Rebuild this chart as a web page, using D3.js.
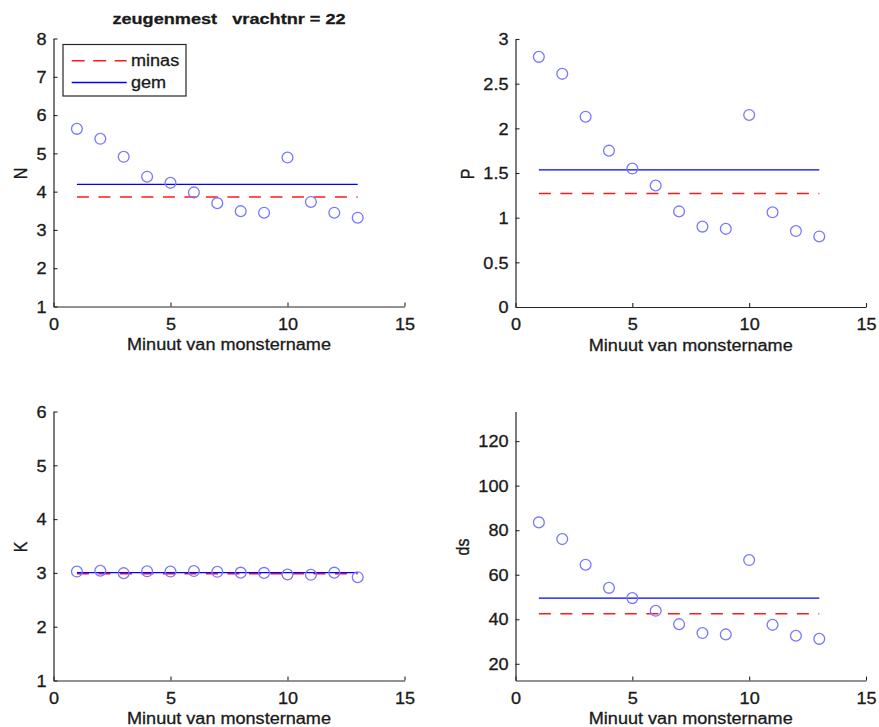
<!DOCTYPE html>
<html>
<head>
<meta charset="utf-8">
<script src="https://cdn.jsdelivr.net/npm/d3@7"></script>
<style>
  html, body { margin: 0; padding: 0; background: #fff; }
  svg { display: block; }
  text { font-family: "Liberation Sans", Arial, Helvetica, sans-serif; fill: #1a1a1a; stroke: #1a1a1a; stroke-width: 0.3px; white-space: pre; }
</style>
</head>
<body>
<svg id="chart" width="879" height="727"></svg>
<script>
// Sampling minutes and the measured quantities per minute
const minutes = [1, 2, 3, 4, 5, 6, 7, 8, 9, 10, 11, 12, 13];
const nValues = [5.64, 5.38, 4.91, 4.39, 4.23, 3.98, 3.70, 3.49, 3.45, 4.89, 3.73, 3.45, 3.32];
const pValues = [2.80, 2.61, 2.13, 1.75, 1.55, 1.36, 1.07, 0.90, 0.875, 2.15, 1.06, 0.85, 0.79];
const kValues = [3.025, 3.04, 2.995, 3.03, 3.025, 3.035, 3.02, 3.005, 3.0, 2.97, 2.965, 3.005, 2.92];
const dsValues = [83.5, 76.0, 64.5, 54.1, 49.5, 43.8, 37.8, 33.8, 33.2, 66.6, 37.5, 32.6, 31.2];

// Reference levels per quantity: N, P, K, ds
const gemValues = [4.19, 1.535, 3.005, 49.5];
const minasValues = [3.86, 1.27, 2.985, 42.5];

// Axis labels and ticks
const quantityLabels = ["N", "P", "K", "ds"];
const xTicks = [0, 5, 10, 15];
const nTicks = [1, 2, 3, 4, 5, 6, 7, 8];
const pTicks = [0, 0.5, 1, 1.5, 2, 2.5, 3];
const kTicks = [1, 2, 3, 4, 5, 6];
const dsTicks = [20, 40, 60, 80, 100, 120];
const legendLabels = ["minas", "gem"];
const titleText = "zeugenmest   vrachtnr = 22";

// Panel geometry (pixels)
const SX = 1.13;          // horizontal stretch of the lettering
const panels = [
  { values: nValues,  ticks: nTicks,  ydom: [1, 8],       left: 53.5,  right: 404.5, top: 38.5,  bottom: 306.5, labelDx: -27 },
  { values: pValues,  ticks: pTicks,  ydom: [0, 3],       left: 515.5, right: 866,   top: 39,    bottom: 307,   labelDx: -42 },
  { values: kValues,  ticks: kTicks,  ydom: [1, 6],       left: 53.5,  right: 404.5, top: 411.5, bottom: 680.5, labelDx: -27 },
  { values: dsValues, ticks: dsTicks, ydom: [12.5, 133.3], left: 515.5, right: 866,  top: 411.5, bottom: 680.5, labelDx: -47 }
];

const svg = d3.select("#chart");
const axisColor = "#262626";
const markerColor = "#7878ff";
const gemColor = "#0000ff";
const minasColor = "#ff1a1a";
const dash = "12,9.5";

panels.forEach((p, i) => {
  const x = d3.scaleLinear().domain([0, 15]).range([p.left, p.right]);
  const y = d3.scaleLinear().domain(p.ydom).range([p.bottom, p.top]);
  const g = svg.append("g");

  // minas (dashed) and gem (solid) reference lines over the sampled minutes
  const x0 = d3.min(minutes), x1 = d3.max(minutes);
  g.append("line")
    .attr("x1", x(x0)).attr("x2", x(x1))
    .attr("y1", y(minasValues[i])).attr("y2", y(minasValues[i]))
    .attr("stroke", minasColor).attr("stroke-width", 1.5)
    .attr("stroke-dasharray", dash);
  g.append("line")
    .attr("x1", x(x0)).attr("x2", x(x1))
    .attr("y1", y(gemValues[i])).attr("y2", y(gemValues[i]))
    .attr("stroke", gemColor).attr("stroke-width", 1.4);

  // measurements as open circles
  g.selectAll("circle.pt")
    .data(minutes.map((m, k) => [m, p.values[k]]))
    .join("circle")
    .attr("class", "pt")
    .attr("cx", d => x(d[0])).attr("cy", d => y(d[1]))
    .attr("r", 5.4)
    .attr("fill", "none")
    .attr("stroke", markerColor).attr("stroke-width", 1.3);

  // axes with inward ticks
  const fmt = d => String(+d.toFixed(2));
  const yAxis = g.append("g")
    .attr("transform", `translate(${p.left},0)`)
    .call(d3.axisLeft(y).tickValues(p.ticks).tickFormat(fmt).tickSizeInner(-4).tickSizeOuter(0));
  const xAxis = g.append("g")
    .attr("transform", `translate(0,${p.bottom})`)
    .call(d3.axisBottom(x).tickValues(xTicks).tickFormat(fmt).tickSizeInner(-4).tickSizeOuter(0));

  [yAxis, xAxis].forEach(a => {
    a.select(".domain").attr("stroke", axisColor).attr("stroke-width", 1.2);
    a.selectAll(".tick line").attr("stroke", axisColor).attr("stroke-width", 1.1);
    a.selectAll(".tick text")
      .style("font-size", "16px").attr("fill", "#1a1a1a")
      .attr("x", 0).attr("y", 0).attr("dy", null);
  });
  yAxis.selectAll(".tick text").attr("transform", `translate(-7,5.7) scale(${SX},1)`);
  xAxis.selectAll(".tick text").attr("transform", `translate(0,23.3) scale(${SX},1)`);

  // axis titles
  const cx = (p.left + p.right) / 2;
  g.append("text")
    .attr("transform", `translate(${cx},${p.bottom + 43.5}) scale(${SX},1)`)
    .attr("text-anchor", "middle")
    .style("font-size", "16px")
    .text("Minuut van monstername");
  g.append("text")
    .attr("transform", `translate(${p.left + p.labelDx},${(p.top + p.bottom) / 2 + 1}) scale(${SX},1) rotate(-90)`)
    .attr("text-anchor", "middle")
    .style("font-size", "16px")
    .text(quantityLabels[i]);

  // title and legend live on the first panel
  if (i === 0) {
    g.append("text")
      .attr("transform", `translate(${cx},23.8) scale(1.17,1)`)
      .attr("text-anchor", "middle")
      .attr("xml:space", "preserve")
      .style("font-size", "15.5px").style("font-weight", "bold")
      .text(titleText);

    const lg = g.append("g");
    lg.append("rect")
      .attr("x", 63).attr("y", 44.5).attr("width", 123).attr("height", 51.5)
      .attr("fill", "#fff").attr("stroke", axisColor).attr("stroke-width", 1.2);
    const rows = [
      { label: legendLabels[0], color: minasColor, dashed: true,  y: 60.7 },
      { label: legendLabels[1], color: gemColor,   dashed: false, y: 82.5 }
    ];
    rows.forEach(r => {
      lg.append("line")
        .attr("x1", 71.7).attr("x2", 126.7).attr("y1", r.y).attr("y2", r.y)
        .attr("stroke", r.color).attr("stroke-width", 1.4)
        .attr("stroke-dasharray", r.dashed ? "13,8.5" : null);
      lg.append("text")
        .attr("transform", `translate(131,${r.y + 5.6}) scale(${SX},1)`)
        .style("font-size", "16px")
        .text(r.label);
    });
  }
});
</script>
</body>
</html>
